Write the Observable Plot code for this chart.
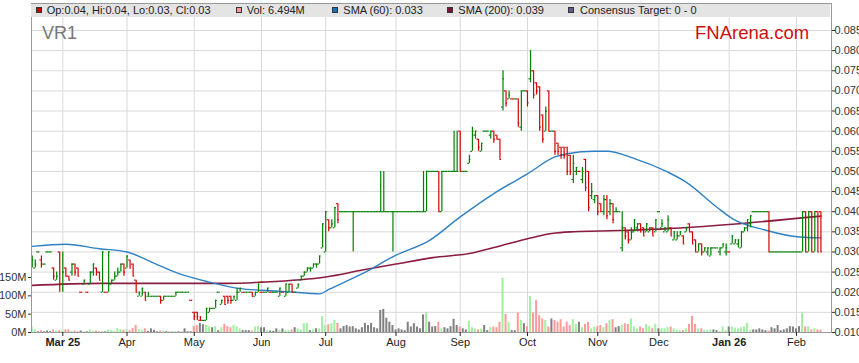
<!DOCTYPE html>
<html><head><meta charset="utf-8">
<script src="https://cdn.jsdelivr.net/npm/d3@7"></script>
<script src="https://cdn.jsdelivr.net/npm/@observablehq/plot@0.6"></script>
<style>
body{margin:0;background:#fff;font-family:"Liberation Sans",Arial,sans-serif;}
#wrap{position:relative;width:859px;height:363px;overflow:hidden;}
#wrap svg{position:absolute;left:0;top:0;}
#legend{position:absolute;left:31px;top:4px;width:799px;height:13px;background:#e4e4e4;font-size:11px;color:#222;}
.sq{position:absolute;top:3px;width:4px;height:4px;border:1px solid #333;}
.lt{position:absolute;top:0;line-height:13px;white-space:nowrap;}
#code{position:absolute;left:42px;top:24px;font-size:18px;line-height:18px;color:#777;}
#brand{position:absolute;left:695px;top:24px;font-size:18.5px;line-height:18.5px;color:#cc1111;}
</style></head>
<body><div id="wrap"></div>
<script>
// ---- data (prices in units of $0.001, one bar per weekday from startDate) ----
const TICK = 0.001;
const startDate = "2025-02-17";
const open = [
26,26,30,28,27,30,30,26,23,30, 22,26,24,25,27,26,20,22,20,22,
25,26,25,20,20,20,22,23,24,25, 27,26,28,27,23,19,19,20,19,19,
19,19,19,18,19,19,19,19,20,20, 20,20,18,15,15,13,13,13,15,16,
16,20,17,19,19,19,18,18,20,20, 20,20,20,19,20,20,20,20,20,20,
20,19,20,19,20,22,20,21,23,24, 25,26,26,27,27,31,30,38,36,36,
42,40,40,40,40,40,40,40,40,40, 40,40,40,40,40,40,40,40,40,40,
40,40,40,40,40,40,40,40,40,40, 50,50,50,50,40,50,50,50,50,50,
60,50,50,52,55,59,58,55,60,60, 59,60,59,58,66,70,68,68,68,68,
61,70,70,73,75,72,71,64,60,70, 60,60,57,56,56,56,54,48,50,50,
48,53,50,44,43,44,42,40,43,40, 42,40,40,31,36,35,33,35,36,37,
36,35,35,36,35,40,36,35,35,36, 33,33,34,34,35,37,35,33,30,32,
30,30,29,31,31,30,31,30,30,32, 32,32,31,35,36,37,40,40,40,40,
40,40,30,30,30,30,30,30,30,30, 30,30,30,40,30,40,30,40,40];
const high = [
29,28,30,29,27,30,30,26,25,30, 30,26,24,27,27,26,20,23,20,25,
27,26,25,30,20,30,23,25,26,27, 27,29,28,27,23,20,21,20,20,19,
19,19,19,19,19,19,19,20,20,20, 20,20,18,15,15,14,13,16,16,16,
18,20,18,19,19,19,19,21,21,20, 20,20,20,20,22,20,20,21,20,20,
20,21,20,22,22,22,20,22,24,25, 26,26,27,27,29,37,40,38,38,41,
42,40,40,40,40,40,40,40,40,40, 40,40,40,40,50,50,40,40,40,40,
40,40,40,40,40,40,40,40,50,50, 50,50,50,50,50,50,50,50,60,60,
60,50,50,54,61,60,58,57,60,60, 60,60,59,58,75,70,70,68,68,68,
70,70,70,80,75,72,71,64,66,70, 60,60,57,56,56,56,54,54,51,50,
51,53,50,47,44,44,42,44,44,43, 42,41,40,40,36,35,36,38,37,37,
36,37,36,36,38,40,38,36,39,36, 35,35,35,34,36,37,35,33,32,32,
31,31,31,31,31,31,32,32,30,34, 33,33,35,36,38,39,40,40,40,40,
40,40,30,30,30,30,30,30,30,30, 30,30,40,40,40,40,40,40,40];
const low = [
26,26,30,26,27,30,30,23,23,20, 20,24,23,24,24,24,20,22,20,22,
24,24,23,20,20,20,22,23,24,25, 24,26,26,24,20,19,19,18,19,19,
19,19,17,18,19,19,19,19,20,20, 20,20,18,13,13,13,13,13,15,16,
16,20,17,17,17,17,18,18,20,20, 20,20,19,19,20,20,20,20,20,20,
20,19,20,19,20,20,20,21,23,24, 25,25,26,26,27,31,30,35,36,36,
37,40,40,40,40,30,40,40,40,40, 40,40,40,40,40,40,40,40,30,40,
40,40,40,40,40,40,40,40,40,40, 50,50,50,40,40,50,50,50,50,50,
50,50,50,52,55,58,55,55,60,60, 58,57,58,53,65,66,68,68,68,61,
60,70,66,72,68,69,60,57,60,60, 60,54,54,53,53,49,49,47,49,50,
47,45,40,43,42,39,40,39,38,39, 37,40,40,30,33,32,33,35,35,35,
34,35,35,34,35,40,36,35,35,34, 33,33,34,32,35,35,32,30,30,29,
30,29,29,31,31,29,31,29,30,32, 32,31,31,35,35,36,40,40,40,40,
40,30,30,30,30,30,30,30,30,30, 30,30,30,30,30,30,30,30,30];
const close = [
28,27,30,27,27,30,30,24,24,22, 25,24,23,27,25,24,20,23,20,25,
27,25,23,30,20,30,23,24,25,27, 25,29,26,24,20,20,21,18,19,19,
19,19,18,19,19,19,19,20,20,20, 20,20,18,14,14,13,13,16,16,16,
18,20,18,17,18,18,19,20,21,20, 20,20,19,20,22,20,20,21,20,20,
20,21,20,22,22,20,20,22,24,25, 26,26,27,27,29,37,40,36,37,41,
38,40,40,40,40,40,40,40,40,40, 40,40,40,40,40,40,40,40,40,40,
40,40,40,40,40,40,40,40,40,50, 50,50,50,40,50,50,50,50,50,50,
50,50,50,53,60,60,56,57,60,60, 60,58,58,53,73,67,69,68,68,62,
70,70,67,75,69,70,61,58,65,60, 60,55,55,54,54,50,50,52,51,50,
50,46,41,45,44,40,40,43,39,42, 38,40,40,36,34,33,35,38,37,35,
34,37,36,34,38,40,37,36,38,34, 35,34,35,32,36,35,32,30,32,30,
31,31,31,31,31,31,32,31,30,34, 33,33,35,36,38,39,40,40,40,40,
40,30,30,30,30,30,30,30,30,30, 30,30,40,30,40,30,40,30,30];
// volume, millions of shares
const volume = [
15,7,2,5,2,4,2,7,4,5, 4,7,7,3,4,2,4,2,2,7,
3,4,2,3,2,7,5,3,10,8, 6,8,5,11,19,8,6,10,3,10,
6,2,4,4,2,1,1,2,2,1, 10,2,2,16,19,25,21,19,15,13,
16,5,13,22,16,13,19,15,10,5, 5,5,4,15,16,13,13,5,4,3,
10,6,10,5,5,7,13,10,7,24, 25,5,7,10,10,44,19,21,24,33,
25,10,16,19,15,16,10,7,13,25, 19,25,13,10,60,63,39,28,19,7,
10,7,5,28,15,24,15,10,48,55, 28,15,16,28,10,13,10,16,36,19,
15,10,7,31,13,9,7,9,19,5, 13,15,13,28,148,49,28,5,5,53,
33,24,16,98,53,87,46,37,33,15, 37,33,28,35,15,28,19,35,22,28,
13,22,28,10,15,16,19,13,24,33, 35,13,16,19,24,22,37,15,10,15,
10,22,16,10,22,10,10,10,13,15, 10,5,5,5,10,22,44,22,10,10,
5,5,7,7,5,3,15,5,15,15, 12,10,13,15,25,5,7,7,10,7,
5,4,13,10,19,5,7,10,16,15, 10,16,55,15,16,7,10,7,6.494];
// moving averages (bar index, value)
const sma60At  = [0,11,22,31,39,48,58,68,75,84,91,94,97,108,119,130,140,151,162,171,175,184,188,197,208,214,224,229,240,251,258];
const sma60    = [.0314,.0319,.0308,.0300,.0275,.0246,.0225,.0209,.0205,.0201,.0197,.0196,.0207,.0246,.0292,.0329,.0387,.0445,.0494,.0536,.0544,.0550,.0550,.0532,.0498,.0473,.0411,.0383,.0354,.0337,.0335];
const sma200At = [0,22,55,64,75,96,108,119,131,143,153,162,170,176,186,195,208,229,258];
const sma200   = [.0217,.0222,.0222,.0222,.0225,.0238,.0255,.0270,.0286,.0296,.0315,.0333,.0346,.0350,.0352,.0354,.0358,.0369,.0389];
// axes
const monthStarts = ["2025-03-03","2025-04-01","2025-05-01","2025-06-02","2025-07-01","2025-08-01","2025-09-01","2025-10-01","2025-11-03","2025-12-01","2026-01-01","2026-02-02"];
const monthLabels = ["Mar 25","Apr","May","Jun","Jul","Aug","Sep","Oct","Nov","Dec","Jan 26","Feb"];
const yearStart   = [true,false,false,false,false,false,false,false,false,false,true,false];
const priceTicks = [0.010,0.015,0.020,0.025,0.030,0.035,0.040,0.045,0.050,0.055,0.060,0.065,0.070,0.075,0.080,0.085];
const volTicks = [0,50,100,150];

// ---- build ----
const FONT = '"Liberation Sans", Arial, sans-serif';
const UP = "#008000", DN = "#d40000";
const VUP = "#a0f0a0", VDN = "#ff9a9a", VEQ = "#808080";
const BASE = 0.010;
const VF = 0.0000911; // price-axis units per million shares (left axis)
function wdIndex(s){
  const d0 = Date.UTC(+startDate.slice(0,4), +startDate.slice(5,7)-1, +startDate.slice(8,10));
  const d = Date.UTC(+s.slice(0,4), +s.slice(5,7)-1, +s.slice(8,10));
  const days = Math.round((d-d0)/864e5);
  return Math.floor(days/7)*5 + Math.min(days%7,5);
}
const bars = open.map((o,i)=>{
  const c = close[i], pc = i ? close[i-1] : c;
  const col = c>o ? UP : c<o ? DN : (c>=pc ? UP : DN);
  const vcol = c>o ? VUP : c<o ? VDN : VEQ;
  return {k:i, o:o*TICK, h:high[i]*TICK, l:low[i]*TICK, c:c*TICK, v:volume[i], col, vcol};
});
const s60 = sma60At.map((k,i)=>({k, v:sma60[i]}));
const s200 = sma200At.map((k,i)=>({k, v:sma200[i]}));
const monthIdx = monthStarts.map(wdIndex);
const labelOf = new Map(monthIdx.map((k,i)=>[k,monthLabels[i]]));
const normalTicks = monthIdx.filter((k,i)=>!yearStart[i]);
const boldTicks = monthIdx.filter((k,i)=>yearStart[i]);

const chart = Plot.plot({
  width: 859, height: 363,
  marginLeft: 31, marginRight: 28, marginTop: 3, marginBottom: 31,
  style: {fontFamily: FONT, fontSize: "11px", color: "#222", background: "transparent"},
  x: {domain: [-0.24, 261.46], range: [31, 831], axis: null, label: null},
  y: {domain: [0.010, 0.085], range: [332, 30], axis: null, label: null},
  color: {type: "identity"},
  marks: [
    Plot.ruleY(priceTicks, {stroke: "#d9d9d9", strokeWidth: 1}),
    Plot.ruleX(monthIdx, {stroke: "#d9d9d9", strokeWidth: 1}),
    Plot.rectY(bars, {x1: d=>d.k-0.33, x2: d=>d.k+0.33, y1: ()=>BASE, y2: d=>BASE+d.v*VF, fill: "vcol", clip: true}),
    Plot.line(s200, {x: "k", y: "v", stroke: "#8a1c40", strokeWidth: 1.6, curve: "monotone-x", clip: true}),
    Plot.line(s60, {x: "k", y: "v", stroke: "#2f80c4", strokeWidth: 1.4, curve: "monotone-x", clip: true}),
    Plot.ruleX(bars, {x: "k", y1: "l", y2: "h", stroke: "col", strokeWidth: 1.2, clip: true}),
    Plot.ruleY(bars, {y: "o", x1: d=>d.k-0.5, x2: "k", stroke: "col", strokeWidth: 1.2, clip: true}),
    Plot.ruleY(bars, {y: "c", x1: "k", x2: d=>d.k+0.5, stroke: "col", strokeWidth: 1.2, clip: true}),
    Plot.frame({stroke: "#999"}),
    Plot.axisY(priceTicks, {anchor: "right", label: null, tickFormat: d3.format(".3f"), tickSize: 3, tickPadding: 0, fontSize: 11, color: "#333"}),
    Plot.axisY(volTicks.map(v=>BASE+v*VF), {anchor: "left", label: null, tickFormat: d=>Math.round((d-BASE)/VF)+"M", tickSize: 3, tickPadding: 2, fontSize: 11, color: "#333"}),
    Plot.axisX(normalTicks, {label: null, tickFormat: k=>labelOf.get(k), tickSize: 4, tickPadding: 2, fontSize: 11, color: "#222"}),
    Plot.axisX(boldTicks, {label: null, tickFormat: k=>labelOf.get(k), tickSize: 4, tickPadding: 2, fontSize: 11, fontWeight: "bold", color: "#222"})
  ]
});
const wrap = document.getElementById("wrap");
wrap.appendChild(chart);

// legend + labels (HTML overlay)
const legendItems = [
  {sq: 5,     tx: 15.7,  fill: "#cc0000", text: "Op:0.04, Hi:0.04, Lo:0.03, Cl:0.03"},
  {sq: 205,   tx: 215.7, fill: "#ff9999", text: "Vol: 6.494M"},
  {sq: 300.7, tx: 312.3, fill: "#1f6fb4", text: "SMA (60): 0.033"},
  {sq: 415.7, tx: 427.3, fill: "#7a1434", text: "SMA (200): 0.039"},
  {sq: 537.3, tx: 549,   fill: "#5c5c8e", text: "Consensus Target: 0 - 0"}
];
const leg = document.createElement("div"); leg.id = "legend";
for (const it of legendItems) {
  const s = document.createElement("div"); s.className = "sq"; s.style.left = it.sq+"px"; s.style.background = it.fill; leg.appendChild(s);
  const t = document.createElement("div"); t.className = "lt"; t.style.left = it.tx+"px"; t.textContent = it.text; leg.appendChild(t);
}
wrap.appendChild(leg);
const code = document.createElement("div"); code.id = "code"; code.textContent = "VR1"; wrap.appendChild(code);
const brand = document.createElement("div"); brand.id = "brand"; brand.textContent = "FNArena.com"; wrap.appendChild(brand);
</script></body></html>
